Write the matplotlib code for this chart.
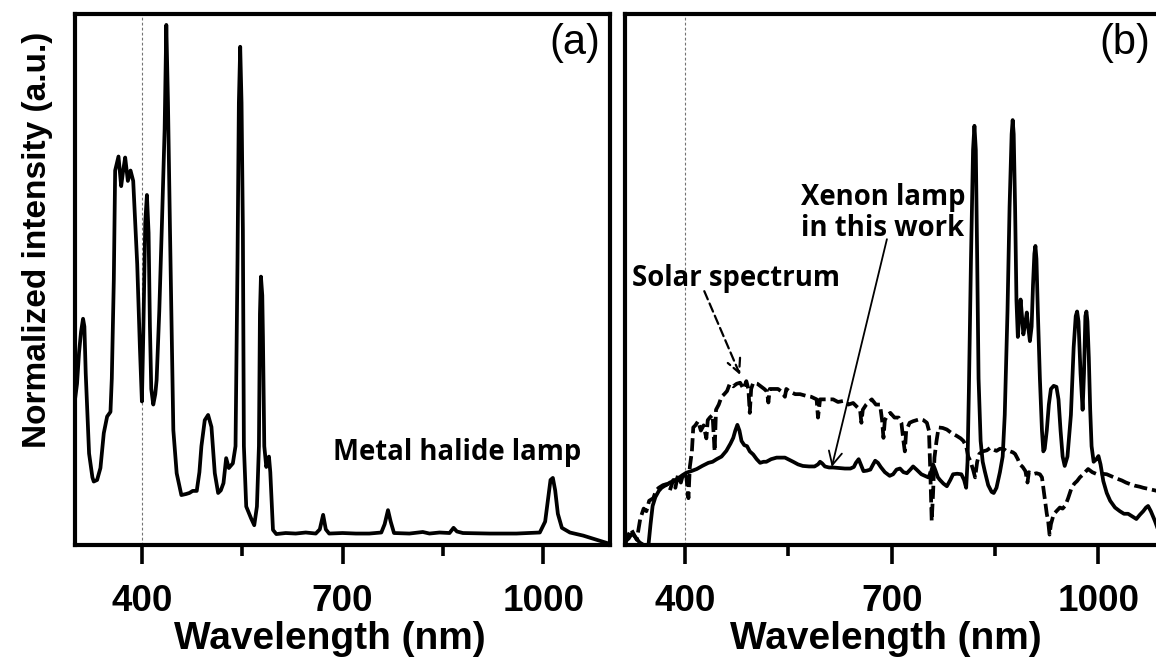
import numpy as np
import matplotlib.pyplot as plt

plt.rcParams['font.family'] = ['Liberation Sans', 'DejaVu Sans']

# (a) metal halide lamp spectrum
halide_wl = [300, 303, 306, 309, 312, 314, 316, 321, 326, 328, 333, 338, 343, 348, 353,
             355, 358, 360, 365, 369, 372, 375, 379, 383, 387, 393, 397, 400, 402, 405,
             407.5, 410, 412, 414, 417, 420, 422, 426, 430, 434, 436.5, 439, 442, 444.5,
             447, 452, 459, 466, 471, 476, 482, 486, 489, 494, 499, 504, 509, 514, 518,
             522, 526, 530, 536, 540, 543, 545, 547, 549, 551, 552.5, 556, 563, 568, 572,
             575, 576.5, 578, 580, 581, 583, 586, 590, 592, 596, 601, 615, 630, 645, 660,
             666, 671, 675, 680, 700, 720, 740, 758, 763, 768, 772, 777, 800, 820, 830,
             845, 860, 866, 871, 880, 920, 960, 995, 1003, 1008, 1011, 1014.5, 1018,
             1022, 1028, 1040, 1060, 1080, 1100]
halide_int = [0.28, 0.31, 0.37, 0.41, 0.435, 0.42, 0.33, 0.176, 0.13, 0.122, 0.125, 0.148,
              0.215, 0.247, 0.256, 0.32, 0.51, 0.72, 0.747, 0.69, 0.72, 0.745, 0.70, 0.72,
              0.70, 0.54, 0.38, 0.276, 0.40, 0.62, 0.673, 0.60, 0.42, 0.30, 0.27, 0.29,
              0.317, 0.45, 0.62, 0.80, 1.0, 0.85, 0.606, 0.413, 0.221, 0.138, 0.096, 0.098,
              0.10, 0.104, 0.104, 0.14, 0.19, 0.24, 0.25, 0.227, 0.138, 0.10, 0.105, 0.119,
              0.167, 0.148, 0.157, 0.19, 0.55, 0.85, 0.958, 0.85, 0.606, 0.19, 0.074,
              0.052, 0.038, 0.074, 0.19, 0.444, 0.516, 0.48, 0.40, 0.19, 0.15, 0.17, 0.14,
              0.029, 0.021, 0.023, 0.022, 0.024, 0.022, 0.03, 0.058, 0.03, 0.022, 0.023,
              0.022, 0.022, 0.024, 0.04, 0.067, 0.045, 0.023, 0.022, 0.025, 0.022, 0.024,
              0.023, 0.033, 0.026, 0.023, 0.022, 0.022, 0.024, 0.045, 0.095, 0.125, 0.129,
              0.105, 0.06, 0.033, 0.024, 0.018, 0.01, 0.002]

# (b) xenon lamp used in this work
xenon_wl = [313, 318, 323, 328, 334, 340, 347, 350, 353, 357, 362, 366, 372, 378, 383, 390,
            396, 402, 409, 417, 425, 434, 440, 446, 453, 460, 466, 470, 473, 476, 479, 482,
            486, 490, 494, 499, 504, 509, 514, 518, 525, 533, 540, 545, 551, 557, 564, 571,
            580, 588, 593, 596, 599, 603, 609, 615, 624, 632, 640, 645, 648, 652, 655, 659,
            664, 669, 673, 676, 680, 684, 690, 697, 702, 707, 712, 717, 722, 727, 731, 736,
            743, 748, 753, 757, 760, 763, 767, 770, 775, 780, 785, 789, 795, 801, 805, 808,
            810, 812, 815, 818, 820, 822, 824, 826, 829, 832, 835, 840, 845, 848, 852, 857,
            861, 864, 868, 871, 874, 875.5, 877, 879, 881, 883, 885, 887, 889, 891, 893,
            896, 898, 900.5, 903, 905, 907, 908.5, 910, 912, 915, 918, 920, 922, 925, 928,
            931, 935, 939, 942, 945, 948, 951, 955, 960, 964, 967, 969, 971, 974, 977, 979,
            981, 982.5, 984, 986, 988, 990, 993, 997, 1000, 1003, 1007, 1012, 1017, 1024,
            1031, 1037, 1043, 1049, 1055, 1060, 1065, 1069, 1072, 1076, 1082, 1085]
xenon_int = [0.008, 0.012, 0.022, 0.015, 0.005, 0.0, 0.0, 0.04, 0.075, 0.092, 0.104, 0.11,
             0.115, 0.12, 0.123, 0.128, 0.134, 0.139, 0.142, 0.146, 0.152, 0.158, 0.16,
             0.165, 0.17, 0.181, 0.195, 0.206, 0.22, 0.231, 0.22, 0.20, 0.192, 0.19, 0.18,
             0.174, 0.165, 0.158, 0.16, 0.16, 0.165, 0.168, 0.168, 0.168, 0.164, 0.16,
             0.155, 0.152, 0.151, 0.151, 0.155, 0.16, 0.157, 0.151, 0.149, 0.149, 0.148,
             0.147, 0.147, 0.15, 0.158, 0.165, 0.155, 0.142, 0.143, 0.145, 0.155, 0.162,
             0.158, 0.15, 0.14, 0.133, 0.136, 0.145, 0.147, 0.14, 0.138, 0.145, 0.151,
             0.145, 0.136, 0.133, 0.13, 0.14, 0.155, 0.145, 0.13, 0.125, 0.118, 0.113,
             0.125, 0.136, 0.137, 0.136, 0.125, 0.11, 0.16, 0.30, 0.55, 0.76, 0.806, 0.76,
             0.55, 0.32, 0.20, 0.16, 0.142, 0.115, 0.102, 0.10, 0.11, 0.14, 0.17, 0.25,
             0.45, 0.65, 0.79, 0.817, 0.79, 0.65, 0.47, 0.40, 0.44, 0.472, 0.44, 0.405,
             0.42, 0.447, 0.42, 0.392, 0.42, 0.50, 0.56, 0.575, 0.55, 0.45, 0.32, 0.22,
             0.18, 0.185, 0.22, 0.27, 0.30, 0.306, 0.304, 0.28, 0.22, 0.17, 0.152, 0.17,
             0.25, 0.38, 0.44, 0.449, 0.43, 0.33, 0.26, 0.33, 0.44, 0.449, 0.43, 0.36,
             0.26, 0.19, 0.16, 0.165, 0.171, 0.155, 0.123, 0.10, 0.085, 0.072, 0.065,
             0.06, 0.06, 0.055, 0.05, 0.058, 0.065, 0.072, 0.075, 0.065, 0.046, 0.035]

# (b) solar spectrum
solar_wl = [313, 318, 322, 326, 330, 335, 340, 344, 348, 354, 358, 362, 368, 373, 378, 383,
            386, 390, 394, 398, 402, 405, 407, 410, 412, 415, 419, 423, 427, 431, 433, 436,
            440, 443, 445, 449, 453, 457, 461, 465, 470, 475, 480, 485, 489, 492, 494, 496,
            499, 505, 510, 515, 519, 521, 523, 528, 535, 540, 545, 547, 552, 560, 567, 575,
            583, 591, 593, 596, 605, 615, 622, 630, 637, 644, 650, 654, 656, 658, 663, 671,
            677, 683, 686, 688, 690, 694, 698, 704, 710, 714, 717, 719, 721, 726, 731, 736,
            741, 746, 751, 754, 756, 758, 760, 762, 765, 768, 774, 780, 787, 794, 800, 804,
            808, 811, 814, 818, 821, 824, 827, 832, 838, 843, 848, 852, 857, 862, 867, 872,
            876, 879, 883, 886, 890, 894, 897, 899, 902, 905, 910, 915, 918, 920, 922, 925,
            927, 929, 931, 935, 939, 944, 948, 952, 956, 961, 965, 969, 973, 978, 982, 985,
            991, 998, 1005, 1012, 1019, 1026, 1034, 1040, 1046, 1053, 1060, 1065, 1072, 1085]
solar_int = [0.0, 0.02, 0.03, 0.02, 0.01, 0.05, 0.07, 0.065, 0.085, 0.09, 0.105, 0.11, 0.115,
             0.117, 0.105, 0.125, 0.11, 0.136, 0.12, 0.14, 0.13, 0.09, 0.15, 0.18, 0.226,
             0.23, 0.238, 0.22, 0.23, 0.205, 0.24, 0.245, 0.25, 0.18, 0.26, 0.27, 0.285,
             0.29, 0.296, 0.31, 0.305, 0.31, 0.312, 0.30, 0.315, 0.30, 0.254, 0.30, 0.312,
             0.31, 0.305, 0.30, 0.295, 0.274, 0.30, 0.30, 0.30, 0.295, 0.285, 0.30, 0.295,
             0.29, 0.29, 0.287, 0.285, 0.28, 0.245, 0.28, 0.28, 0.28, 0.275, 0.277, 0.27,
             0.273, 0.265, 0.26, 0.235, 0.26, 0.27, 0.28, 0.27, 0.27, 0.24, 0.206, 0.24,
             0.25, 0.254, 0.245, 0.245, 0.235, 0.20, 0.18, 0.22, 0.235, 0.238, 0.24, 0.242,
             0.24, 0.235, 0.22, 0.14, 0.046, 0.10, 0.168, 0.20, 0.226, 0.225, 0.222, 0.215,
             0.21, 0.205, 0.20, 0.19, 0.17, 0.162, 0.145, 0.13, 0.16, 0.175, 0.18, 0.182,
             0.187, 0.183, 0.181, 0.185, 0.185, 0.18, 0.18, 0.178, 0.175, 0.165, 0.155,
             0.15, 0.142, 0.12, 0.14, 0.138, 0.136, 0.138, 0.136, 0.13, 0.11, 0.091, 0.06,
             0.046, 0.02, 0.04, 0.059, 0.065, 0.072, 0.07, 0.076, 0.09, 0.11, 0.118, 0.123,
             0.13, 0.136, 0.142, 0.146, 0.14, 0.136, 0.137, 0.136, 0.132, 0.128, 0.124,
             0.12, 0.117, 0.114, 0.112, 0.11, 0.108, 0.104]

major_ticks = [400, 700, 1000]
minor_ticks = [550, 850]

note_font = ['Open Sans', 'DejaVu Sans']

fig = plt.figure(figsize=(11.56, 6.66), dpi=100)
ax1 = fig.add_axes([0.0649, 0.1817, 0.4628, 0.7973])
ax2 = fig.add_axes([0.5407, 0.1817, 0.4602, 0.7973])

ax1.plot(halide_wl, halide_int, color='black', lw=2.7, solid_joinstyle='round')
ax2.plot(solar_wl, solar_int, color='black', lw=2.7, ls=(0, (3.5, 1.3)))
ax2.plot(xenon_wl, xenon_int, color='black', lw=2.7, solid_joinstyle='round')

ax1.set_xlim(300, 1100)
ax2.set_xlim(313, 1085)

for ax in (ax1, ax2):
    ax.set_ylim(0, 1.021)
    ax.axvline(400, color='0.45', lw=0.8, ls=(0, (2.5, 2)), zorder=0)
    for s in ax.spines.values():
        s.set_linewidth(3)
    ax.set_yticks([])
    ax.set_xticks(major_ticks)
    ax.set_xticks(minor_ticks, minor=True)
    ax.tick_params(axis='x', which='major', direction='out', length=14, width=2.6,
                   labelsize=26.5, pad=14)
    ax.tick_params(axis='x', which='minor', direction='out', length=8, width=2.6)
    for lab in ax.get_xticklabels():
        lab.set_fontweight('bold')
    ax.set_xlabel('Wavelength (nm)', fontsize=28, fontweight='bold')

ax1.xaxis.set_label_coords(0.477, -0.143)
ax2.xaxis.set_label_coords(0.49, -0.143)

ax1.text(0.981, 0.945, '(a)', transform=ax1.transAxes, ha='right', va='center', fontsize=30)
ax2.text(0.987, 0.945, '(b)', transform=ax2.transAxes, ha='right', va='center', fontsize=30)

ax1.text(686, 0.177, 'Metal halide lamp', ha='left', va='center', fontsize=19.8,
         fontweight='bold', family=note_font)

ax2.text(323, 0.513, 'Solar spectrum', ha='left', va='center', fontsize=19.8,
         fontweight='bold', family=note_font)
ax2.text(568, 0.638, 'Xenon lamp\nin this work', ha='left', va='center', fontsize=19.8,
         fontweight='bold', family=note_font, linespacing=1.1)
ax2.annotate('', xy=(480, 0.327), xytext=(428, 0.488),
             arrowprops=dict(arrowstyle='->', color='black', lw=1.6, ls=(0, (4, 2)),
                             mutation_scale=24, shrinkA=0, shrinkB=0))
ax2.annotate('', xy=(613, 0.15), xytext=(693, 0.588),
             arrowprops=dict(arrowstyle='->', color='black', lw=1.3,
                             mutation_scale=24, shrinkA=0, shrinkB=0))

fig.text(38 / 1156, 1 - 240 / 666, 'Normalized intensity (a.u.)', rotation=90,
         ha='center', va='center', fontsize=24, fontweight='bold')

fig.savefig('out.png', dpi=100)
